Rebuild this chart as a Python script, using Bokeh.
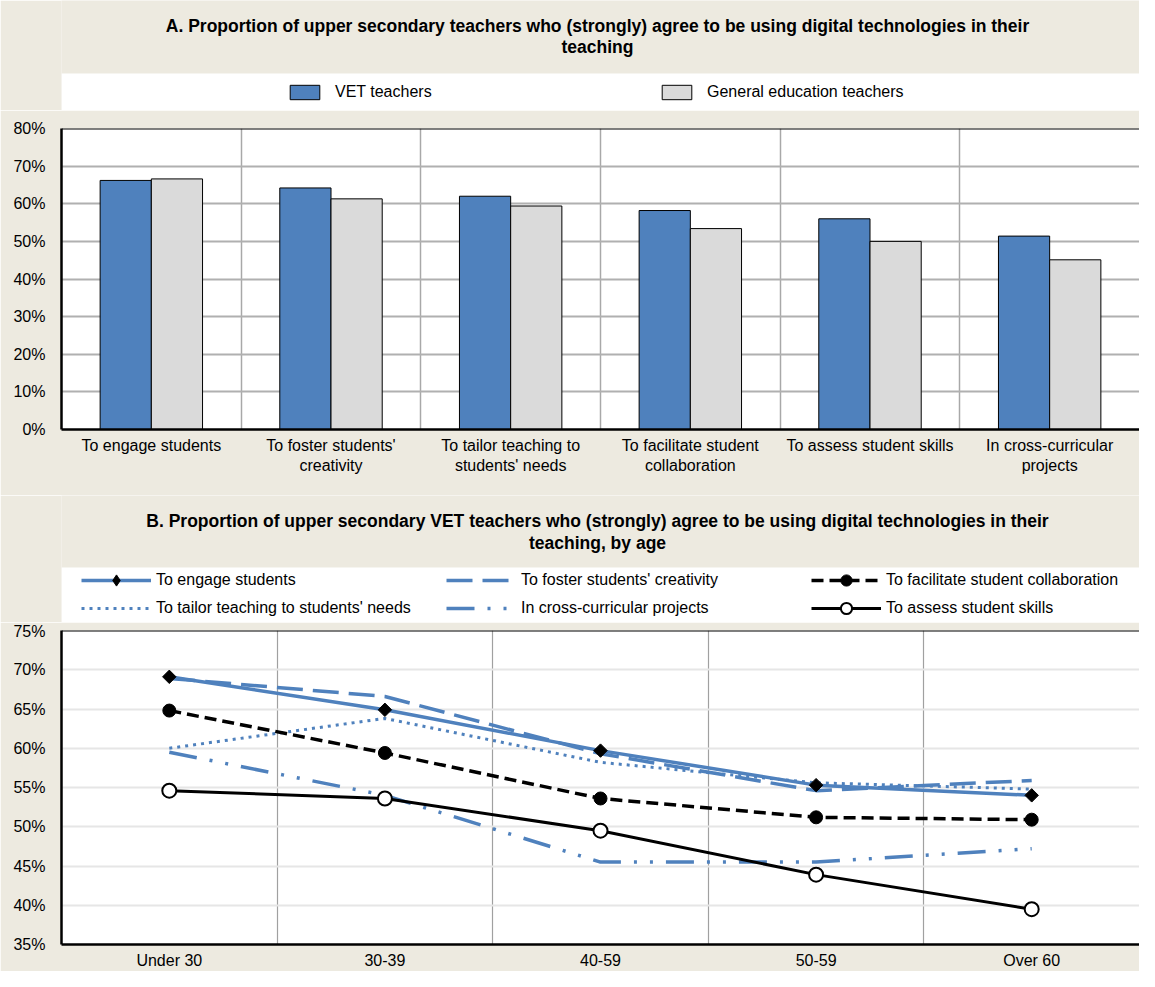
import math
from bokeh.plotting import figure
from bokeh.layouts import column
from bokeh.models import (Range1d, FixedTicker, PrintfTickFormatter, Legend, LegendItem,
                          Label, Span, BoxAnnotation, ColumnDataSource)
from bokeh.transform import dodge
from bokeh.embed import file_html
from bokeh.resources import INLINE

FONT = "Liberation Sans"
BEIGE = "#EDEAE0"
BLUE = "#4F81BD"
GREY_BAR = "#DADADA"

# ---------------- data: panel A ----------------
categories = ["To engage students", "To foster students' creativity",
              "To tailor teaching to students' needs", "To facilitate student collaboration",
              "To assess student skills", "In cross-curricular projects"]
category_labels = ["To engage students", "To foster students'\ncreativity",
                   "To tailor teaching to\nstudents' needs", "To facilitate student\ncollaboration",
                   "To assess student skills", "In cross-curricular\nprojects"]
vet_teachers = [66.2, 64.2, 62.0, 58.2, 56.0, 51.4]
general_teachers = [66.6, 61.3, 59.4, 53.4, 50.0, 45.1]
ticks_a = [0, 10, 20, 30, 40, 50, 60, 70, 80]
title_a = ["A. Proportion of upper secondary teachers who (strongly) agree to be using digital technologies in their",
           "teaching"]

# ---------------- data: panel B ----------------
age_groups = ["Under 30", "30-39", "40-59", "50-59", "Over 60"]
engage = [69.1, 64.9, 59.7, 55.3, 54.0]
foster = [68.9, 66.6, 59.3, 54.6, 55.9]
facilitate = [64.8, 59.4, 53.6, 51.2, 50.9]
tailor = [60.0, 63.8, 58.2, 55.6, 54.8]
cross_curricular = [59.5, 54.0, 45.5, 45.5, 47.2]
assess = [54.6, 53.6, 49.5, 43.9, 39.5]
ticks_b = [35, 40, 45, 50, 55, 60, 65, 70, 75]
title_b = ["B. Proportion of upper secondary VET teachers who (strongly) agree to be using digital technologies in their",
           "teaching, by age"]

W = 1139
Y0 = 1000  # header ranges sit far from the data so legend-only renderers never show

xa = [i + 0.5 for i in range(len(categories))]
xb = [i + 0.5 for i in range(len(age_groups))]
src_a = ColumnDataSource(dict(x=xa, vet=vet_teachers, gen=general_teachers))
src_b = ColumnDataSource(dict(x=xb, engage=engage, foster=foster, facilitate=facilitate,
                              tailor=tailor, cross=cross_curricular, assess=assess))


def header(height, box_h, lines, line_y):
    p = figure(width=W, height=height, output_backend="svg", toolbar_location=None,
               x_axis_type=None, y_axis_type=None,
               x_range=Range1d(Y0, Y0 + W - 61), y_range=Range1d(Y0, Y0 + height),
               min_border_left=61, min_border_right=0, min_border_top=0, min_border_bottom=0,
               background_fill_color=BEIGE, border_fill_color=BEIGE, outline_line_color=None,
               title_location=None)
    p.grid.visible = False
    p.add_layout(BoxAnnotation(bottom=Y0, top=Y0 + box_h, fill_color="white", fill_alpha=1,
                               line_color=None, level="underlay"))
    cx = Y0 + (W - 61) / 2 - 3
    for txt, yy in zip(lines, line_y):
        p.add_layout(Label(x=cx, y=Y0 + height - yy, text=txt, text_align="center",
                           text_baseline="middle", text_font=FONT, text_font_size="17.5px",
                           text_font_style="bold", text_color="black"))
    return p


def style_axes(p, yticks):
    p.yaxis.ticker = FixedTicker(ticks=yticks)
    p.yaxis.formatter = PrintfTickFormatter(format="%d%%")
    for ax in (p.xaxis[0], p.yaxis[0]):
        ax.major_tick_out = 0
        ax.major_tick_in = 0
        ax.minor_tick_out = 0
        ax.minor_tick_in = 0
        ax.axis_line_color = "black"
        ax.axis_line_width = 2.5
        ax.major_label_text_font = FONT
        ax.major_label_text_font_size = "16px"
        ax.major_label_text_color = "black"
    p.yaxis.major_label_standoff = 16
    p.xaxis.major_label_standoff = 7


# ---------------- Panel A header ----------------
p1 = header(110, 37, title_a, [25, 46])
leg_vet = p1.vbar(x="x", top="vet", width=0.2, source=src_a, visible=False,
                  fill_color=BLUE, line_color="black", line_width=1)
leg_gen = p1.vbar(x="x", top="gen", width=0.2, source=src_a, visible=False,
                  fill_color=GREY_BAR, line_color="black", line_width=1)
legend_a = Legend(items=[LegendItem(label="VET teachers", renderers=[leg_vet]),
                         LegendItem(label="General education teachers", renderers=[leg_gen])],
                  orientation="horizontal", location=(225, 9), glyph_width=37, glyph_height=18,
                  label_width=323, label_standoff=12, spacing=0, padding=0, margin=0,
                  border_line_color=None, background_fill_alpha=0,
                  label_text_font=FONT, label_text_font_size="16px", label_text_color="black")
p1.add_layout(legend_a)

# ---------------- Panel A chart ----------------
p2 = figure(width=W, height=385, output_backend="svg", toolbar_location=None,
            x_range=Range1d(0, len(categories)), y_range=Range1d(0, 80),
            min_border_left=61, min_border_right=0, min_border_top=18, min_border_bottom=66,
            background_fill_color="white", border_fill_color=BEIGE, outline_line_color=None,
            title_location=None)
p2.vbar(x=dodge("x", -0.1425, range=p2.x_range), top="vet", width=0.285, source=src_a,
        fill_color=BLUE, line_color="black", line_width=1)
p2.vbar(x=dodge("x", 0.1425, range=p2.x_range), top="gen", width=0.285, source=src_a,
        fill_color=GREY_BAR, line_color="black", line_width=1)
style_axes(p2, ticks_a)
p2.xaxis.ticker = FixedTicker(ticks=xa)
p2.xaxis.major_label_overrides = {x: lab for x, lab in zip(xa, category_labels)}
p2.xgrid.ticker = FixedTicker(ticks=list(range(1, len(categories))))
p2.xgrid.grid_line_color = "#A8A8A8"
p2.xgrid.grid_line_width = 1.5
p2.ygrid.grid_line_color = "#B0B0B0"
p2.ygrid.grid_line_width = 2
p2.add_layout(Span(location=80, dimension="width", line_color="black", line_width=2))

# ---------------- Panel B header ----------------
p3 = header(127, 55, title_b, [25, 47])
styles = {
    "engage": dict(line_color=BLUE, line_width=3.5),
    "foster": dict(line_color=BLUE, line_width=3.5, line_dash="26 10"),
    "facilitate": dict(line_color="black", line_width=3.5, line_dash="12 6"),
    "tailor": dict(line_color=BLUE, line_width=3, line_dash="3 5"),
    "cross": dict(line_color=BLUE, line_width=3.5, line_dash="28 13 3 13 3 13"),
    "assess": dict(line_color="black", line_width=3),
}
mk_engage = dict(marker="square", angle=math.pi / 4, size=9.5, fill_color="black", line_color="black")
mk_engage_leg = dict(marker="diamond", size=16, fill_color="black", line_color="black")
mk_facil = dict(marker="circle", size=13, fill_color="black", line_color="black")
mk_assess = dict(marker="circle", size=14, fill_color="white", line_color="black", line_width=2)

l_eng = p3.line("x", "engage", source=src_b, visible=False, **styles["engage"])
m_eng = p3.scatter("x", "engage", source=src_b, visible=False, **mk_engage_leg)
l_fos = p3.line("x", "foster", source=src_b, visible=False, **styles["foster"])
l_fac = p3.line("x", "facilitate", source=src_b, visible=False, **styles["facilitate"])
m_fac = p3.scatter("x", "facilitate", source=src_b, visible=False, **mk_facil)
l_tai = p3.line("x", "tailor", source=src_b, visible=False, **styles["tailor"])
l_cro = p3.line("x", "cross", source=src_b, visible=False, **styles["cross"])
l_ass = p3.line("x", "assess", source=src_b, visible=False, **styles["assess"])
m_ass = p3.scatter("x", "assess", source=src_b, visible=False, **mk_assess)
legend_b = Legend(items=[LegendItem(label="To engage students", renderers=[l_eng, m_eng]),
                         LegendItem(label="To foster students' creativity", renderers=[l_fos]),
                         LegendItem(label="To facilitate student collaboration", renderers=[l_fac, m_fac]),
                         LegendItem(label="To tailor teaching to students' needs", renderers=[l_tai]),
                         LegendItem(label="In cross-curricular projects", renderers=[l_cro]),
                         LegendItem(label="To assess student skills", renderers=[l_ass, m_ass])],
                  orientation="horizontal", ncols=3, location=(20, 0), glyph_width=70, glyph_height=28,
                  label_width=290, label_standoff=5, spacing=0, padding=0, margin=0,
                  border_line_color=None, background_fill_alpha=0,
                  label_text_font=FONT, label_text_font_size="16px", label_text_color="black")
p3.add_layout(legend_b)

# ---------------- Panel B chart ----------------
p4 = figure(width=W, height=349, output_backend="svg", toolbar_location=None,
            x_range=Range1d(0, len(age_groups)), y_range=Range1d(35, 75),
            min_border_left=61, min_border_right=0, min_border_top=8, min_border_bottom=24,
            background_fill_color="white", border_fill_color=BEIGE, outline_line_color=None,
            title_location=None)
p4.line("x", "tailor", source=src_b, **styles["tailor"])
p4.line("x", "cross", source=src_b, **styles["cross"])
p4.line("x", "foster", source=src_b, **styles["foster"])
p4.line("x", "engage", source=src_b, **styles["engage"])
p4.line("x", "facilitate", source=src_b, **styles["facilitate"])
p4.line("x", "assess", source=src_b, **styles["assess"])
p4.scatter("x", "engage", source=src_b, **mk_engage)
p4.scatter("x", "facilitate", source=src_b, **mk_facil)
p4.scatter("x", "assess", source=src_b, **mk_assess)
style_axes(p4, ticks_b)
p4.xaxis.ticker = FixedTicker(ticks=xb)
p4.xaxis.major_label_overrides = {x: lab for x, lab in zip(xb, age_groups)}
p4.xgrid.ticker = FixedTicker(ticks=list(range(1, len(age_groups))))
p4.xgrid.grid_line_color = "#A0A0A0"
p4.xgrid.grid_line_width = 1.2
p4.ygrid.grid_line_color = "#E6E6E6"
p4.ygrid.grid_line_width = 2
p4.add_layout(Span(location=75, dimension="width", line_color="black", line_width=2))

layout = column(p1, p2, p3, p4, spacing=0)
open("out.html", "w").write(file_html(layout, INLINE))
